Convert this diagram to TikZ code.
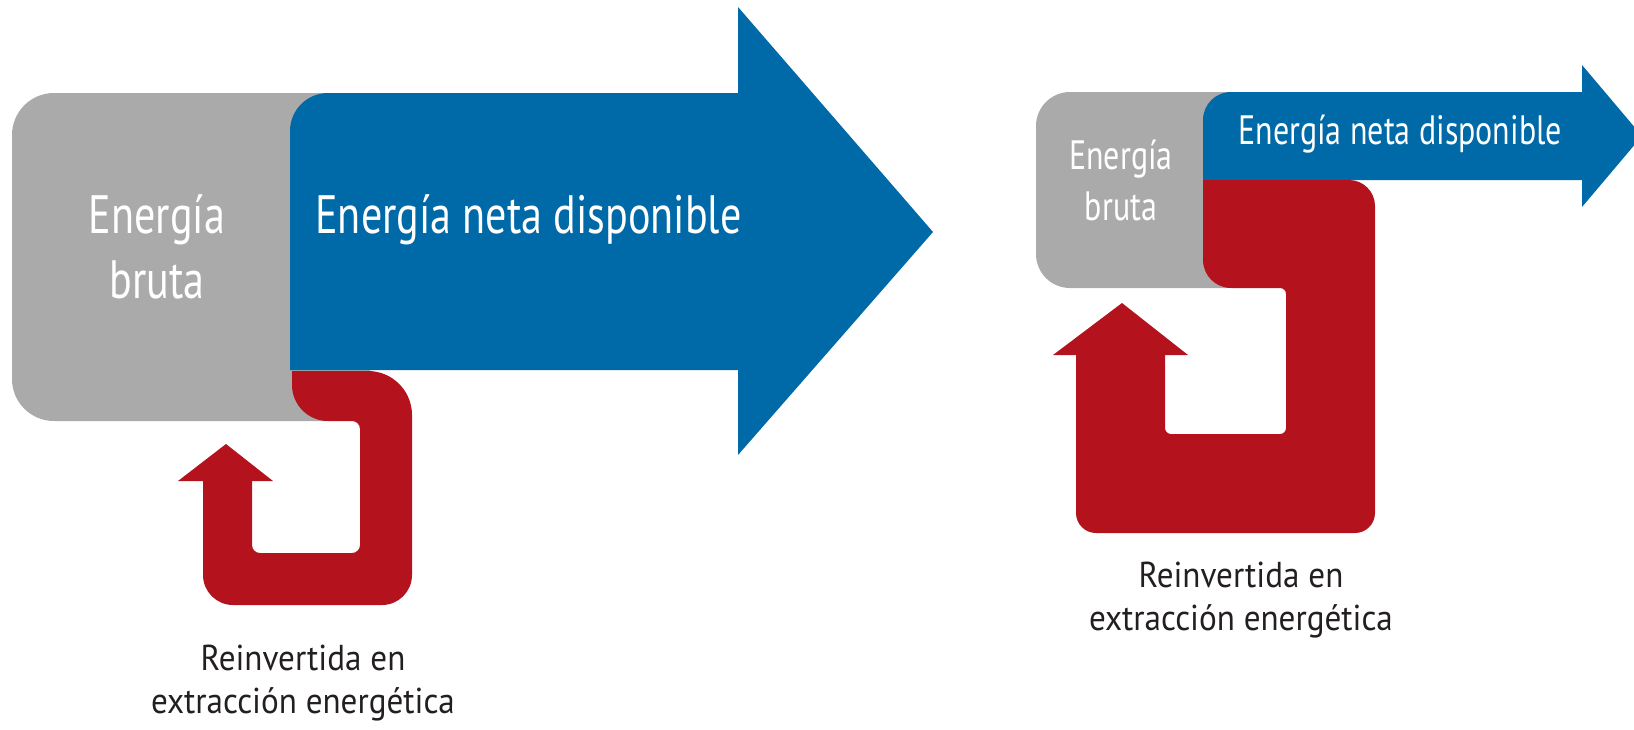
\documentclass[tikz,border=0pt]{standalone}
\usepackage{fontspec}
\setmainfont{PT Sans}[FakeStretch=0.78]
\newfontfamily\piefont{PT Sans}[FakeStretch=0.92]
\definecolor{bruto}{RGB}{170,170,170}
\definecolor{neta}{RGB}{0,105,168}
\definecolor{reinv}{RGB}{180,19,29}
\definecolor{textopie}{RGB}{35,31,32}
\tikzset{
  dentro/.style={text=white, inner sep=0pt, align=center},
  grande/.style={font=\fontsize{27}{32.5}\selectfont},
  chico/.style={font=\fontsize{20.5}{25.5}\selectfont},
  pie/.style={text=textopie, inner sep=0pt, align=center, font=\piefont\fontsize{18}{21.5}\selectfont},
}
\begin{document}
\begin{tikzpicture}[x=0.5pt,y=-0.5pt]
\useasboundingbox (0,0) rectangle (1634,729);
% caso 1: mucha energia neta
\fill[bruto,rounded corners=21pt] (12,93) rectangle (370,421);
\fill[neta] (290,370) [rounded corners=19pt] -- (290,93) [sharp corners] -- (738,93) -- (738,7) -- (933,232) -- (738,455) -- (738,370) -- cycle;
\fill[reinv] (292,371) [rounded corners=22pt] -- (412,371) [rounded corners=15pt] -- (412,605) -- (203,605) [sharp corners] -- (203,481) -- (178,481) -- (226,444) -- (273,481) -- (252,481) [rounded corners=4pt] -- (252,553) -- (360,553) -- (360,421) [rounded corners=18pt] -- (292,421) [sharp corners] -- cycle;
\node[dentro, grande, anchor=base] (brutaA) at (157,298) {Energía\\bruta};
\node[dentro, grande, anchor=base west] (netaA) at (315,233) {Energía neta disponible};
\node[pie, anchor=base] (reinvA) at (303,713) {Reinvertida en\\extracción energética};
% caso 2: poca energia neta
\fill[bruto,rounded corners=17pt] (1036,92) rectangle (1260,288);
\fill[neta] (1203,180) [rounded corners=14pt] -- (1203,92) [sharp corners] -- (1582,92) -- (1582,65) -- (1642,136) -- (1582,207) -- (1582,180) -- cycle;
\fill[reinv] (1203,180) [rounded corners=13pt] -- (1375,180) [rounded corners=10pt] -- (1375,533) -- (1076,533) [sharp corners] -- (1076,355) -- (1053,355) -- (1122,303) -- (1188,355) -- (1165,355) [rounded corners=3pt] -- (1165,434) -- (1286,434) -- (1286,288) [rounded corners=14pt] -- (1203,288) [sharp corners] -- cycle;
\node[dentro, chico, anchor=base] (brutaB) at (1121,220) {Energía\\bruta};
\node[dentro, font=\fontsize{20.5}{24}\selectfont, anchor=base west] (netaB) at (1238,144) {Energía neta disponible};
\node[pie, anchor=base] (reinvB) at (1241,630) {Reinvertida en\\extracción energética};
\end{tikzpicture}
\end{document}
